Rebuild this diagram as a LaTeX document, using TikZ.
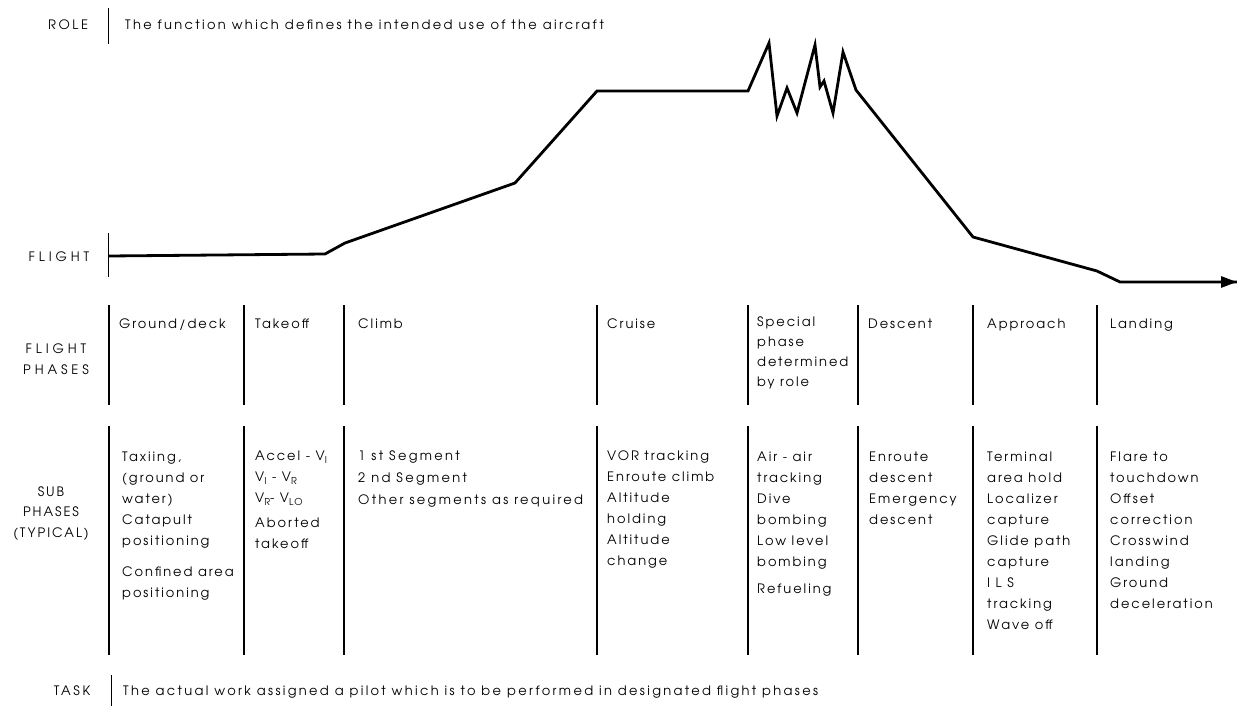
\documentclass[tikz,border=0pt]{standalone}
\usepackage{fontspec}
\setmainfont{TeX Gyre Adventor}[LetterSpace=15]
\newfontfamily\widelbl{TeX Gyre Adventor}[LetterSpace=30]
\newfontfamily\midlbl{TeX Gyre Adventor}[LetterSpace=20]
\newfontfamily\sublbl{TeX Gyre Adventor}[LetterSpace=15]
\newfontfamily\longfont{TeX Gyre Adventor}[LetterSpace=18]
\usetikzlibrary{arrows.meta}
\newcommand{\lowsub}[1]{\raisebox{-0.5ex}{\fontsize{9.5}{9.5}\selectfont #1}}
\newcommand{\colstack}[1]{\begin{tabular}[t]{@{}l@{}}#1\end{tabular}}
\newcommand{\ctrstack}[1]{\begin{tabular}[t]{@{}c@{}}#1\end{tabular}}
\begin{document}
\begin{tikzpicture}[x=1pt,y=-1pt,
  font=\fontsize{13}{21}\selectfont,
  profile/.style={line width=2.8pt,line join=miter},
  colline/.style={line width=1.2pt},
  bar/.style={line width=0.8pt},
  txt/.style={inner sep=0pt,anchor=base west},
  lbl/.style={inner sep=0pt,anchor=base}]
\useasboundingbox (0,0) rectangle (1237,706);

% ---- ROLE ----
\node[lbl,font=\fontsize{13}{21}\selectfont\midlbl] (rolel) at (68,30) {ROLE};
\draw[bar] (108,8) -- (108,44);
\node[txt,font=\fontsize{13}{21}\selectfont\longfont] (rolet) at (125,30) {The function which defines the intended use of the aircraft};

% ---- FLIGHT profile ----
\node[lbl,font=\fontsize{13}{21}\selectfont\widelbl] (flightl) at (59,261) {FLIGHT};
\draw[bar] (108,233) -- (108,277);
\coordinate (p0) at (109,256);
\coordinate (p1) at (325,254);
\coordinate (p2) at (345,243);
\coordinate (p3) at (515,183);
\coordinate (p4) at (597,91);
\coordinate (p5) at (748,91);
\coordinate (p6) at (769,43);
\coordinate (p7) at (777,116);
\coordinate (p8) at (787,88);
\coordinate (p9) at (797,113);
\coordinate (p10) at (815,45);
\coordinate (p11) at (820,87);
\coordinate (p12) at (824,81);
\coordinate (p13) at (833,113);
\coordinate (p14) at (843,52);
\coordinate (p15) at (856,90);
\coordinate (p16) at (973,237);
\coordinate (p17) at (1097,271);
\coordinate (p18) at (1120,282);
\coordinate (p19) at (1237,282);
\draw[profile] (p0) -- (p1) -- (p2) -- (p3) -- (p4) -- (p5) -- (p6) -- (p7) -- (p8) -- (p9) -- (p10) -- (p11) -- (p12) -- (p13) -- (p14) -- (p15) -- (p16) -- (p17) -- (p18) -- (p19);
\draw[profile,-{Triangle[length=16pt,width=11pt]}] (p18) -- (p19);

% ---- column lines ----
\foreach \cx in {109,244,344,597,748,858,973,1097}{
  \draw[colline] (\cx,305) -- (\cx,405);
  \draw[colline] (\cx,426) -- (\cx,655);
}

% ---- FLIGHT PHASES ----
\node[lbl,font=\fontsize{13}{21}\selectfont\widelbl] (phasesl) at (56,353) {\ctrstack{FLIGHT\\PHASES}};
\node[txt] (hground) at (119,328) {Ground/deck};
\node[txt] (htakeoff) at (255,328) {Takeoff};
\node[txt] (hclimb) at (358,328) {Climb};
\node[txt] (hcruise) at (607,328) {Cruise};
\node[txt,font=\fontsize{13}{20}\selectfont] (hspecial) at (757,326) {\colstack{Special\\phase\\determined\\by role}};
\node[txt] (hdescent) at (868,328) {Descent};
\node[txt] (happroach) at (987,328) {Approach};
\node[txt] (hlanding) at (1110,328) {Landing};

% ---- SUB PHASES ----
\node[lbl,font=\fontsize{13}{20.5}\selectfont\sublbl] (subl) at (51,496) {\ctrstack{SUB\\PHASES\\(TYPICAL)}};
\node[txt] (sground) at (122,461) {\colstack{Taxiing,\\(ground or\\water)\\Catapult\\positioning\\[10pt]Confined area\\positioning}};
\node[txt] (stakeoff) at (255,460) {\colstack{Accel - V\lowsub{I}\\V\lowsub{I} - V\lowsub{R}\\V\lowsub{R}- V\lowsub{LO}\\[4pt]Aborted\\takeoff}};
\node[txt,font=\fontsize{13}{21}\selectfont\longfont] (sclimb) at (358,460) {\colstack{1 st Segment\\[1pt]2 nd Segment\\[1pt]Other segments as required}};
\node[txt] (scruise) at (607,460) {\colstack{VOR tracking\\Enroute climb\\Altitude\\holding\\Altitude\\change}};
\node[txt] (sspecial) at (757,461) {\colstack{Air - air\\tracking\\Dive\\bombing\\Low level\\bombing\\[6pt]Refueling}};
\node[txt] (sdescent) at (869,461) {\colstack{Enroute\\descent\\Emergency\\descent}};
\node[txt] (sapproach) at (987,461) {\colstack{Terminal\\area hold\\Localizer\\capture\\Glide path\\capture\\I L S\\tracking\\Wave off}};
\node[txt] (slanding) at (1110,461) {\colstack{Flare to\\touchdown\\Offset\\correction\\Crosswind\\landing\\Ground\\deceleration}};

% ---- TASK ----
\node[lbl,font=\fontsize{13}{21}\selectfont\midlbl] (taskl) at (72,695) {TASK};
\draw[bar] (111,675) -- (111,706);
\node[txt,font=\fontsize{13}{21}\selectfont\longfont] (taskt) at (123,695) {The actual work assigned a pilot which is to be performed in designated flight phases};
\end{tikzpicture}
\end{document}
